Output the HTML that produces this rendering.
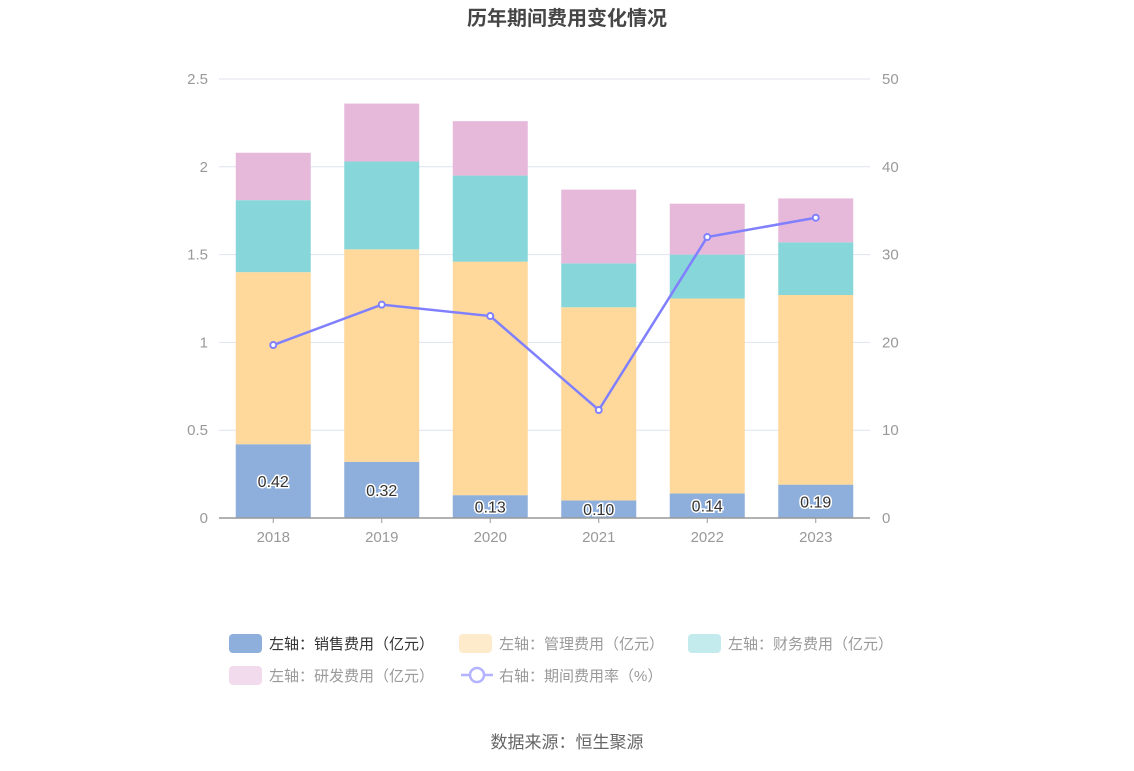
<!DOCTYPE html>
<html><head><meta charset="utf-8"><style>
body{margin:0;background:#fff;width:1134px;height:766px;overflow:hidden;font-family:"Liberation Sans","Noto Sans CJK SC",sans-serif}
</style></head><body>
<svg id="c" width="1134" height="766" xmlns="http://www.w3.org/2000/svg" font-family="Liberation Sans, Noto Sans CJK SC, sans-serif">
<text x="567" y="25" text-anchor="middle" font-size="20" font-weight="bold" fill="#464646">历年期间费用变化情况</text>
<g id="grid"></g><g id="bars"></g><g id="line"></g><g id="axes"></g>
<g id="legend"></g>
<text x="567" y="748" text-anchor="middle" font-size="17" fill="#666">数据来源：恒生聚源</text>
</svg>
<script>
const years=['2018','2019','2020','2021','2022','2023'];
const sales=[0.42,0.32,0.13,0.10,0.14,0.19];
const mgmt=[0.98,1.21,1.33,1.10,1.11,1.08];
const fin=[0.41,0.50,0.49,0.25,0.25,0.30];
const rd=[0.27,0.33,0.31,0.42,0.29,0.25];
const rate=[19.7,24.3,23.0,12.3,32.0,34.2];
const leftTicks=['0','0.5','1','1.5','2','2.5'];
const rightTicks=['0','10','20','30','40','50'];
const NS='http://www.w3.org/2000/svg';
const x0=219,x1=870,y0=518,yT=79;
const yL=v=>y0-(v/2.5)*(y0-yT);
const yR=v=>y0-(v/50)*(y0-yT);
const step=(x1-x0)/years.length;
const xc=i=>x0+step*(i+0.5);
function mk(t,a,p){const e=document.createElementNS(NS,t);for(const k in a)e.setAttribute(k,a[k]);p.appendChild(e);return e;}
const G=document.getElementById('grid'),B=document.getElementById('bars'),L=document.getElementById('line'),A=document.getElementById('axes');
leftTicks.forEach((t,i)=>{const v=i*0.5,y=yL(v);
 if(i>0){const g=mk('line',{x1:x0,x2:x1,y1:y,y2:y,stroke:'#e0e3ef','stroke-width':1},G);
 
 }
 const tl=mk('text',{x:208,y:y+5,'text-anchor':'end','font-size':15,fill:'#999'},A);tl.textContent=t;
 
 
 const tr=mk('text',{x:882,y:yR(i*10)+5,'font-size':15,fill:'#999'},A);tr.textContent=rightTicks[i];
 
 
});
const ax=mk('line',{x1:x0,x2:x1,y1:y0,y2:y0,stroke:'#999','stroke-width':1.5},A);


const series=[[sales,'#8eaedb','sales'],[mgmt,'#fed99b','mgmt'],[fin,'#87d6da','fin'],[rd,'#e6b9da','rd']];
const bw=75;
years.forEach((yr,i)=>{let cum=0;
 const tk=mk('line',{x1:xc(i),x2:xc(i),y1:y0,y2:y0+5,stroke:'#999'},A);
 
 
 const xl=mk('text',{x:xc(i),y:542,'text-anchor':'middle','font-size':15,fill:'#999'},A);xl.textContent=yr;
 
 
 series.forEach(([arr,col,nm])=>{const v=arr[i];const yt=yL(cum+v),yb=yL(cum);
  const r=mk('rect',{x:xc(i)-bw/2,y:yt,width:bw,height:yb-yt,fill:col},B);
  
  
  cum+=v;});
 const lb=mk('text',{x:xc(i),y:(yL(sales[i])+y0)/2+6,'text-anchor':'middle','font-size':16,fill:'#333',stroke:'#fff','stroke-width':3,'paint-order':'stroke'},B);
 lb.textContent=sales[i].toFixed(2);
 
 
});
const pts=rate.map((v,i)=>xc(i)+','+yR(v)).join(' ');
const pl=mk('polyline',{points:pts,fill:'none',stroke:'#8080ff','stroke-width':2.5},L);


rate.forEach((v,i)=>{const c=mk('circle',{cx:xc(i),cy:yR(v),r:3,fill:'#fff',stroke:'#8080ff','stroke-width':2},L);
 
 });
const LG=document.getElementById('legend');
const items=[[229,643,'#8eaedb','左轴：销售费用（亿元）','#333'],[459,643,'#feebcc','左轴：管理费用（亿元）','#999'],[688,643,'#c3eaec','左轴：财务费用（亿元）','#999'],[229,675,'#f2dbec','左轴：研发费用（亿元）','#999']];
items.forEach(([x,y,c,t,tc])=>{const r=mk('rect',{x:x,y:y-9,width:33,height:19,rx:4,fill:c},LG);
 
 
 const tx=mk('text',{x:x+40,y:y+6,'font-size':15,fill:tc},LG);tx.textContent=t;
 
 });
const ll=mk('line',{x1:461,x2:493,y1:675,y2:675,stroke:'#b3b3ff','stroke-width':2.5},LG);


const lc=mk('circle',{cx:477,cy:675,r:7,fill:'#fff',stroke:'#b3b3ff','stroke-width':2.5},LG);


const lt=mk('text',{x:499,y:681,'font-size':15,fill:'#999'},LG);lt.textContent='右轴：期间费用率（%）';


</script>
</body></html>
